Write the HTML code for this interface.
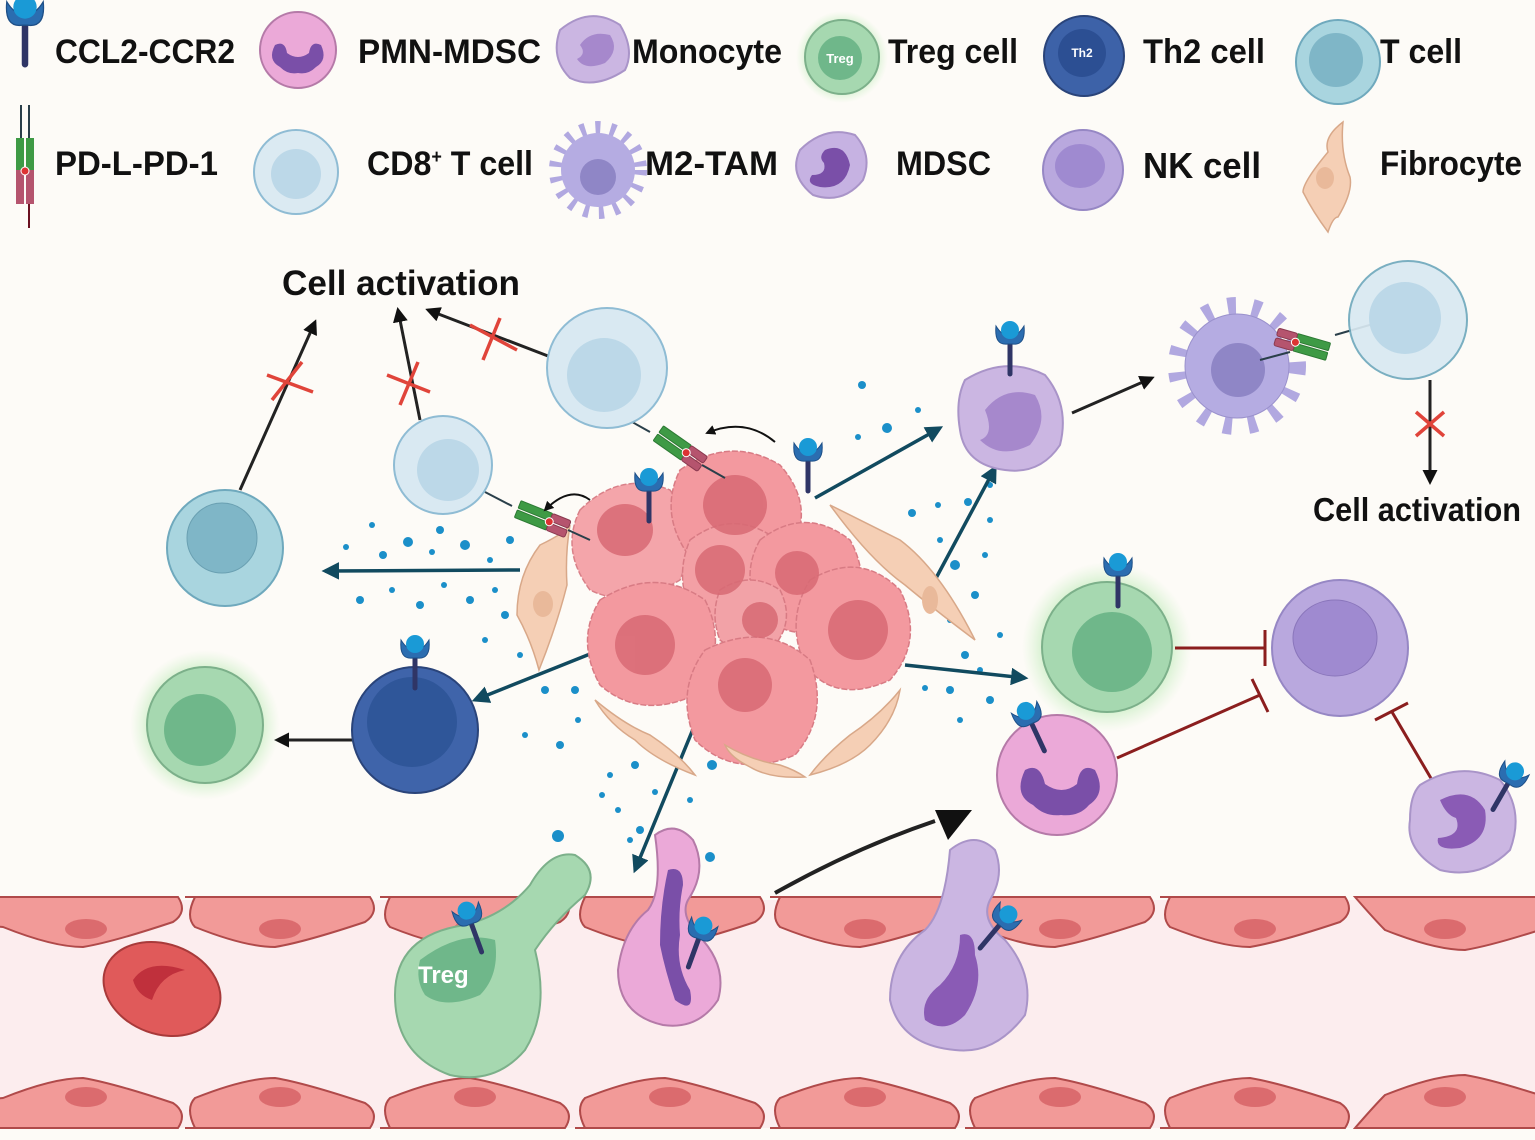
<!DOCTYPE html>
<html><head><meta charset="utf-8"><style>
html,body{margin:0;padding:0;background:#fdfbf7;}
svg{display:block;}
text{font-family:"Liberation Sans",sans-serif;font-weight:bold;fill:#111;}
</style></head><body>
<svg width="1535" height="1140" viewBox="0 0 1535 1140" xmlns="http://www.w3.org/2000/svg">
<defs>
<g id="rec">
  <line x1="0" y1="0" x2="0" y2="34" stroke="#2f3566" stroke-width="5" stroke-linecap="round"/>
  <path d="M-14,-14 Q-16,6 -2,4 L2,4 Q16,6 14,-14 Q8,-4 0,-4 Q-8,-4 -14,-14Z" fill="#2b6db0" stroke="#1e4f87" stroke-width="1"/>
  <circle cx="0" cy="-10" r="9" fill="#1a9ad6"/>
</g>
<g id="pd">
  <rect x="-24" y="-9" width="34" height="8" rx="1" fill="#3e9a45" stroke="#2d7a34"/><rect x="-24" y="1" width="34" height="8" rx="1" fill="#3e9a45" stroke="#2d7a34"/>
  <rect x="10" y="-9" width="20" height="8" rx="2" fill="#b5546e" stroke="#8a3a50"/><rect x="10" y="1" width="20" height="8" rx="2" fill="#b5546e" stroke="#8a3a50"/>
  <circle cx="10" cy="0" r="4" fill="#d33" stroke="#fff"/>
</g>
<radialGradient id="glow"><stop offset="0.6" stop-color="#9fe09a" stop-opacity="0.8"/><stop offset="1" stop-color="#c8f0c0" stop-opacity="0"/></radialGradient>
<marker id="ab" viewBox="0 0 10 10" refX="8" refY="5" markerWidth="5" markerHeight="5" orient="auto"><path d="M0,0 L10,5 L0,10Z" fill="#111"/></marker>
<marker id="at" viewBox="0 0 10 10" refX="8" refY="5" markerWidth="5" markerHeight="5" orient="auto"><path d="M0,0 L10,5 L0,10Z" fill="#114a5f"/></marker>
</defs>

<!-- Legend row 1 -->
<g transform="translate(25,20) scale(1.3)"><use href="#rec"/></g>
<text x="55" y="63" font-size="34" textLength="180" lengthAdjust="spacingAndGlyphs">CCL2-CCR2</text>
<circle cx="298" cy="50" r="38" fill="#eba9d8" stroke="#b57aa8" stroke-width="2"/>
<path d="M275,45 q-8,15 5,22 q8,8 18,6 q10,2 18,-6 q12,-7 5,-22 q-10,-5 -12,8 q-11,8 -22,0 q-2,-13 -12,-8z" fill="#7a4fa8"/>
<text x="358" y="63" font-size="34" textLength="183" lengthAdjust="spacingAndGlyphs">PMN-MDSC</text>
<path d="M560,30 q30,-25 60,-5 q15,25 5,45 q-30,20 -55,8 q-20,-20 -10,-48z" fill="#cbb6e2" stroke="#a994c8" stroke-width="2"/>
<path d="M580,45 q10,-15 30,-10 q10,15 -5,28 q-20,8 -28,-4 q10,-5 3,-14z" fill="#a688cc"/>
<text x="632" y="63" font-size="34" textLength="150" lengthAdjust="spacingAndGlyphs">Monocyte</text>
<circle cx="842" cy="57" r="46" fill="url(#glow)"/>
<circle cx="842" cy="57" r="37" fill="#a6d8b0" stroke="#7cb08a" stroke-width="2"/>
<circle cx="840" cy="58" r="22" fill="#6fb78a"/>
<text x="840" y="63" font-size="13" text-anchor="middle" style="fill:#fff">Treg</text>
<text x="888" y="63" font-size="34" textLength="130" lengthAdjust="spacingAndGlyphs">Treg cell</text>
<circle cx="1084" cy="56" r="40" fill="#3d62a8" stroke="#2a447a" stroke-width="2"/>
<circle cx="1082" cy="53" r="24" fill="#2c4f93"/>
<text x="1082" y="57" font-size="12" text-anchor="middle" style="fill:#fff">Th2</text>
<text x="1143" y="63" font-size="34" textLength="122" lengthAdjust="spacingAndGlyphs">Th2 cell</text>
<circle cx="1338" cy="62" r="42" fill="#a9d5df" stroke="#6fa9bd" stroke-width="2"/>
<circle cx="1336" cy="60" r="27" fill="#7fb6c7"/>
<text x="1380" y="63" font-size="34" textLength="82" lengthAdjust="spacingAndGlyphs">T cell</text>

<!-- Legend row 2 -->
<g transform="translate(25,105)">
  <line x1="-4" y1="0" x2="-4" y2="35" stroke="#2a3f4a" stroke-width="2"/><line x1="4" y1="0" x2="4" y2="35" stroke="#2a3f4a" stroke-width="2"/>
  <rect x="-9" y="33" width="8" height="32" fill="#3e9a45"/><rect x="1" y="33" width="8" height="32" fill="#3e9a45"/>
  <rect x="-9" y="65" width="8" height="34" fill="#b5546e"/><rect x="1" y="65" width="8" height="34" fill="#b5546e"/>
  <circle cx="0" cy="66" r="4" fill="#d33" stroke="#fff"/>
  <line x1="4" y1="99" x2="4" y2="123" stroke="#6a1020" stroke-width="2"/>
</g>
<text x="55" y="175" font-size="34" textLength="163" lengthAdjust="spacingAndGlyphs">PD-L-PD-1</text>
<circle cx="296" cy="172" r="42" fill="#dbeaf2" stroke="#8fbcd4" stroke-width="2"/>
<circle cx="296" cy="174" r="25" fill="#bcd8e8"/>
<text x="367" y="175" font-size="34" textLength="166" lengthAdjust="spacingAndGlyphs">CD8<tspan font-size="19" dy="-12">+</tspan><tspan dy="12"> T cell</tspan></text>
<circle cx="598" cy="170" r="42" fill="none" stroke="#b1a8e0" stroke-width="14" stroke-dasharray="5 10"/>
<circle cx="598" cy="170" r="37" fill="#b5ace2"/>
<circle cx="598" cy="177" r="18" fill="#8f86c6"/>
<text x="645" y="175" font-size="34" textLength="133" lengthAdjust="spacingAndGlyphs">M2-TAM</text>
<path d="M800,150 q25,-25 55,-15 q18,20 8,45 q-20,25 -50,15 q-25,-20 -13,-45z" fill="#c6b2e2" stroke="#a994c8" stroke-width="2"/>
<path d="M825,150 q20,-8 25,15 q-5,25 -30,22 q-15,-3 -8,-12 q15,0 12,-12 q-6,-6 1,-13z" fill="#7a4fa8"/>
<text x="896" y="175" font-size="34" textLength="95" lengthAdjust="spacingAndGlyphs">MDSC</text>
<circle cx="1083" cy="170" r="40" fill="#b9a8de" stroke="#9687c4" stroke-width="2"/>
<ellipse cx="1080" cy="166" rx="25" ry="22" fill="#9f8ad0"/>
<text x="1143" y="178" font-size="36" textLength="118" lengthAdjust="spacingAndGlyphs">NK cell</text>
<path d="M1343,122 q-20,15 -15,30 q-25,30 -25,40 q10,20 25,40 q5,-15 10,-15 q15,-25 12,-40 q-10,-25 -7,-55z" fill="#f5cfb5" stroke="#d8a889" stroke-width="1.5"/>
<ellipse cx="1325" cy="178" rx="9" ry="11" fill="#e9b99a"/>
<text x="1380" y="175" font-size="34" textLength="142" lengthAdjust="spacingAndGlyphs">Fibrocyte</text>

<!-- dots -->
<g fill="#1b8fc9">
<circle cx="862" cy="385" r="4"/><circle cx="887" cy="428" r="5"/><circle cx="858" cy="437" r="3"/><circle cx="918" cy="410" r="3"/><circle cx="912" cy="513" r="4"/><circle cx="938" cy="505" r="3"/><circle cx="968" cy="502" r="4"/><circle cx="990" cy="485" r="3"/><circle cx="955" cy="565" r="5"/><circle cx="985" cy="555" r="3"/><circle cx="975" cy="595" r="4"/><circle cx="990" cy="520" r="3"/><circle cx="950" cy="620" r="3"/><circle cx="965" cy="655" r="4"/><circle cx="990" cy="700" r="4"/><circle cx="1000" cy="635" r="3"/><circle cx="925" cy="688" r="3"/><circle cx="950" cy="690" r="4"/><circle cx="960" cy="720" r="3"/><circle cx="980" cy="670" r="3"/><circle cx="940" cy="540" r="3"/>
<circle cx="346" cy="547" r="3"/><circle cx="372" cy="525" r="3"/><circle cx="383" cy="555" r="4"/><circle cx="408" cy="542" r="5"/><circle cx="432" cy="552" r="3"/><circle cx="440" cy="530" r="4"/><circle cx="465" cy="545" r="5"/><circle cx="490" cy="560" r="3"/><circle cx="510" cy="540" r="4"/><circle cx="360" cy="600" r="4"/><circle cx="392" cy="590" r="3"/><circle cx="420" cy="605" r="4"/><circle cx="444" cy="585" r="3"/><circle cx="470" cy="600" r="4"/><circle cx="495" cy="590" r="3"/><circle cx="505" cy="615" r="4"/><circle cx="485" cy="640" r="3"/><circle cx="520" cy="655" r="3"/><circle cx="525" cy="735" r="3"/><circle cx="545" cy="690" r="4"/><circle cx="575" cy="690" r="4"/><circle cx="578" cy="720" r="3"/><circle cx="560" cy="745" r="4"/><circle cx="610" cy="775" r="3"/><circle cx="635" cy="765" r="4"/><circle cx="602" cy="795" r="3"/><circle cx="618" cy="810" r="3"/><circle cx="655" cy="792" r="3"/><circle cx="640" cy="830" r="4"/><circle cx="690" cy="800" r="3"/><circle cx="712" cy="765" r="5"/><circle cx="710" cy="857" r="5"/><circle cx="558" cy="836" r="6"/><circle cx="630" cy="840" r="3"/><circle cx="673" cy="845" r="3"/>
</g>

<!-- teal arrows from tumor -->
<g stroke="#114a5f" stroke-width="3.5" fill="none" marker-end="url(#at)">
<line x1="815" y1="498" x2="940" y2="428"/>
<line x1="935" y1="580" x2="995" y2="468"/>
<line x1="905" y1="665" x2="1025" y2="678"/>
<line x1="520" y1="570" x2="325" y2="571"/>
<line x1="600" y1="650" x2="475" y2="700"/>
<line x1="705" y1="700" x2="635" y2="870"/>
</g>

<!-- tumor cluster -->
<g stroke="#d87b84" stroke-width="1.5" stroke-dasharray="6 2">
<path d="M580,510 q40,-40 90,-20 q30,40 10,90 q-50,30 -90,10 q-30,-40 -10,-80z" fill="#f4a1a6" opacity="0.95"/>
<path d="M680,470 q50,-35 100,-5 q40,45 5,95 q-60,25 -100,-10 q-25,-40 -5,-80z" fill="#f3999f"/>
<path d="M690,540 q40,-30 80,-5 q20,40 -5,80 q-45,20 -75,-5 q-15,-35 0,-70z" fill="#f3a0a5"/>
<path d="M760,540 q45,-35 90,0 q25,45 -5,85 q-50,20 -85,-10 q-20,-40 0,-75z" fill="#f3999f"/>
<path d="M810,580 q50,-30 90,10 q25,50 -10,90 q-55,25 -85,-15 q-20,-45 5,-85z" fill="#f3999f"/>
<path d="M600,600 q55,-35 105,0 q25,50 -10,95 q-55,25 -95,-10 q-25,-45 0,-85z" fill="#f3999f"/>
<path d="M720,590 q30,-20 60,0 q15,30 -5,55 q-30,15 -55,-5 q-10,-25 0,-50z" fill="#f2a2a7"/>
<path d="M705,650 q60,-30 105,10 q20,55 -15,95 q-60,25 -100,-15 q-20,-50 10,-90z" fill="#f3999f"/>
</g>
<g fill="#d86a74" opacity="0.85">
<ellipse cx="625" cy="530" rx="28" ry="26"/><ellipse cx="735" cy="505" rx="32" ry="30"/><ellipse cx="720" cy="570" rx="25" ry="25"/><ellipse cx="797" cy="573" rx="22" ry="22"/><ellipse cx="858" cy="630" rx="30" ry="30"/><ellipse cx="645" cy="645" rx="30" ry="30"/><ellipse cx="760" cy="620" rx="18" ry="18"/><ellipse cx="745" cy="685" rx="27" ry="27"/>
</g>
<!-- fibrocytes around tumor -->
<g fill="#f5cfb5" stroke="#d8a889" stroke-width="1.5">
<path d="M540,545 q25,-12 30,-20 q-5,30 -3,60 q-10,40 -28,85 q-8,-30 -22,-55 q0,-40 23,-70z"/>
<path d="M830,505 q40,20 70,35 q40,30 75,100 q-40,-30 -70,-55 q-35,-25 -75,-80z"/>
<path d="M595,700 q30,25 55,35 q30,20 45,40 q-40,-15 -60,-35 q-25,-15 -40,-40z"/>
<path d="M900,690 q-20,25 -50,45 q-25,20 -40,40 q40,-10 60,-30 q25,-25 30,-55z"/>
<path d="M725,745 q25,15 55,20 q15,5 25,12 q-35,2 -55,-10 q-20,-10 -25,-22z"/>
</g>
<g fill="#e9b99a"><ellipse cx="543" cy="604" rx="10" ry="13"/><ellipse cx="930" cy="600" rx="8" ry="14"/></g>
<use href="#rec" x="649" y="487"/>
<use href="#rec" x="808" y="457"/>
<!-- PD-L PD-1 pairs near tumor -->
<line x1="485" y1="492" x2="512" y2="506" stroke="#2a3f4a" stroke-width="2"/>
<line x1="625" y1="418" x2="650" y2="432" stroke="#2a3f4a" stroke-width="2"/>
<g transform="translate(540,518) rotate(22)"><use href="#pd"/></g>
<g transform="translate(678,447) rotate(35)"><use href="#pd"/></g>
<line x1="568" y1="530" x2="590" y2="540" stroke="#2a3f4a" stroke-width="2"/>
<line x1="702" y1="465" x2="725" y2="478" stroke="#2a3f4a" stroke-width="2"/>
<path d="M590,500 q-20,-15 -45,10" stroke="#111" stroke-width="2" fill="none" marker-end="url(#ab)"/>
<path d="M775,442 q-30,-25 -68,-9" stroke="#111" stroke-width="2" fill="none" marker-end="url(#ab)"/>

<!-- Cell activation left -->
<text x="282" y="295" font-size="35" textLength="238" lengthAdjust="spacingAndGlyphs">Cell activation</text>
<g stroke="#222" stroke-width="3" fill="none" marker-end="url(#ab)">
<line x1="240" y1="490" x2="315" y2="322"/>
<line x1="420" y1="420" x2="398" y2="310"/>
<line x1="548" y1="356" x2="428" y2="310"/>
<line x1="1072" y1="413" x2="1152" y2="378"/>
<line x1="1430" y1="380" x2="1430" y2="482"/>
<line x1="352" y1="740" x2="277" y2="740"/>
</g>
<g stroke="#e0443a" stroke-width="3.5">
<line x1="267" y1="375" x2="313" y2="392"/><line x1="272" y1="400" x2="302" y2="362"/>
<line x1="387" y1="375" x2="430" y2="392"/><line x1="400" y1="405" x2="418" y2="362"/>
<line x1="470" y1="325" x2="517" y2="350"/><line x1="483" y1="360" x2="500" y2="318"/>
<line x1="1416" y1="412" x2="1444" y2="436"/><line x1="1416" y1="436" x2="1444" y2="412"/>
</g>

<!-- CD8 cells -->
<circle cx="607" cy="368" r="60" fill="#d9e9f2" stroke="#8fbcd4" stroke-width="2"/>
<circle cx="604" cy="375" r="37" fill="#bcd8e8"/>
<circle cx="443" cy="465" r="49" fill="#d9e9f2" stroke="#8fbcd4" stroke-width="2"/>
<circle cx="448" cy="470" r="31" fill="#bcd8e8"/>
<!-- T cell -->
<circle cx="225" cy="548" r="58" fill="#a9d5df" stroke="#6fa9bd" stroke-width="2"/>
<circle cx="222" cy="538" r="35" fill="#7fb6c7" stroke="#6aa0b2"/>
<!-- Treg left -->
<circle cx="205" cy="725" r="75" fill="url(#glow)"/>
<circle cx="205" cy="725" r="58" fill="#a6d8b0" stroke="#7cb08a" stroke-width="2"/>
<circle cx="200" cy="730" r="36" fill="#6fb78a"/>
<!-- Th2 -->
<circle cx="415" cy="730" r="63" fill="#3f64aa" stroke="#2a447a" stroke-width="2"/>
<circle cx="412" cy="722" r="45" fill="#2f5699"/>
<use href="#rec" x="415" y="654"/>

<!-- Monocyte -->
<path d="M965,380 q40,-25 80,-5 q25,30 15,70 q-20,30 -55,25 q-40,-5 -45,-40 q-5,-30 5,-50z" fill="#cbb6e2" stroke="#a994c8" stroke-width="2"/>
<path d="M985,410 q20,-25 50,-15 q15,25 -5,50 q-30,15 -50,-5 q15,-5 5,-30z" fill="#a688cc"/>
<use href="#rec" x="1010" y="340"/>
<!-- M2 TAM -->
<circle cx="1237" cy="366" r="58" fill="none" stroke="#b1a8e0" stroke-width="22" stroke-dasharray="8 16"/>
<circle cx="1237" cy="366" r="52" fill="#b5ace2" stroke="#9a91cc"/>
<circle cx="1238" cy="370" r="27" fill="#8f86c6"/>
<line x1="1260" y1="360" x2="1290" y2="352" stroke="#2a3f4a" stroke-width="2"/>
<line x1="1335" y1="335" x2="1380" y2="322" stroke="#2a3f4a" stroke-width="2"/>
<g transform="translate(1305,345) rotate(-164)"><use href="#pd"/></g>
<circle cx="1408" cy="320" r="59" fill="#d9e9f2" stroke="#6fa9bd" stroke-width="2" opacity="0.92"/>
<circle cx="1405" cy="318" r="36" fill="#bcd8e8"/>
<text x="1313" y="521" font-size="33" textLength="208" lengthAdjust="spacingAndGlyphs">Cell activation</text>

<!-- Treg right -->
<circle cx="1107" cy="647" r="85" fill="url(#glow)"/>
<circle cx="1107" cy="647" r="65" fill="#a6d8b0" stroke="#7cb08a" stroke-width="2"/>
<circle cx="1112" cy="652" r="40" fill="#6fb78a"/>
<use href="#rec" x="1118" y="572"/>
<!-- NK -->
<circle cx="1340" cy="648" r="68" fill="#b9a8de" stroke="#9687c4" stroke-width="2"/>
<ellipse cx="1335" cy="638" rx="42" ry="38" fill="#9f8ad0" stroke="#8a76bb"/>
<!-- PMN-MDSC -->
<circle cx="1057" cy="775" r="60" fill="#eba9d8" stroke="#b57aa8" stroke-width="2"/>
<path d="M1025,770 q-12,25 8,35 q12,12 28,10 q18,2 28,-10 q18,-12 6,-35 q-15,-8 -18,14 q-15,12 -32,0 q-5,-22 -20,-14z" fill="#7a4fa8"/>
<use href="#rec" x="1030" y="720" transform="rotate(-25,1030,720)"/>
<!-- inhibition -->
<g stroke="#8b1e1e" stroke-width="3">
<line x1="1175" y1="648" x2="1265" y2="648"/><line x1="1265" y1="630" x2="1265" y2="666"/>
<line x1="1117" y1="758" x2="1260" y2="695"/><line x1="1252" y1="679" x2="1268" y2="712"/>
<line x1="1432" y1="780" x2="1392" y2="712"/><line x1="1375" y1="720" x2="1408" y2="703"/>
</g>
<!-- MDSC right -->
<path d="M1420,785 q40,-25 80,-5 q25,30 10,70 q-30,30 -70,20 q-35,-20 -30,-50 q0,-25 10,-35z" fill="#cbb6e2" stroke="#a994c8" stroke-width="2"/>
<path d="M1440,800 q30,-15 45,10 q5,30 -25,38 q-25,3 -22,-10 q25,-2 18,-20 q-10,-3 -16,-18z" fill="#8a5bb5"/>
<use href="#rec" x="1510" y="780" transform="rotate(30,1510,780)"/>

<!-- big black arrow -->
<path d="M775,893 q80,-45 160,-72" stroke="#222" stroke-width="4" fill="none"/>
<path d="M935,810 L972,810 L948,840Z" fill="#111"/>

<!-- Vessel -->
<rect x="0" y="900" width="1535" height="228" fill="#fcedee"/>
<g fill="#f29a98" stroke="#b04a4a" stroke-width="2">
<path d="M-20,897 L178,897 q10,15 -5,25 q-60,20 -90,25 q-30,0 -80,-20 L-20,925z"/>
<path d="M185,897 L370,897 q10,15 -5,25 q-60,20 -90,25 q-30,0 -80,-20 q-10,-10 0,-30z"/>
<path d="M380,897 L565,897 q10,15 -5,25 q-60,20 -90,25 q-30,0 -80,-20 q-10,-10 0,-30z"/>
<path d="M575,897 L760,897 q10,15 -5,25 q-60,20 -90,25 q-30,0 -80,-20 q-10,-10 0,-30z"/>
<path d="M770,897 L955,897 q10,15 -5,25 q-60,20 -90,25 q-30,0 -80,-20 q-10,-10 0,-30z"/>
<path d="M965,897 L1150,897 q10,15 -5,25 q-60,20 -90,25 q-30,0 -80,-20 q-10,-10 0,-30z"/>
<path d="M1160,897 L1345,897 q10,15 -5,25 q-60,20 -90,25 q-30,0 -80,-20 q-10,-10 0,-30z"/>
<path d="M1355,897 L1555,897 L1555,925 q-60,20 -90,25 q-30,0 -80,-20 q-10,-10 -30,-33z"/>
<path d="M-20,1128 L178,1128 q10,-15 -5,-25 q-60,-20 -90,-25 q-30,0 -80,20 L-20,1100z"/>
<path d="M185,1128 L370,1128 q10,-15 -5,-25 q-60,-20 -90,-25 q-30,0 -80,20 q-10,10 0,30z"/>
<path d="M380,1128 L565,1128 q10,-15 -5,-25 q-60,-20 -90,-25 q-30,0 -80,20 q-10,10 0,30z"/>
<path d="M575,1128 L760,1128 q10,-15 -5,-25 q-60,-20 -90,-25 q-30,0 -80,20 q-10,10 0,30z"/>
<path d="M770,1128 L955,1128 q10,-15 -5,-25 q-60,-20 -90,-25 q-30,0 -80,20 q-10,10 0,30z"/>
<path d="M965,1128 L1150,1128 q10,-15 -5,-25 q-60,-20 -90,-25 q-30,0 -80,20 q-10,10 0,30z"/>
<path d="M1160,1128 L1345,1128 q10,-15 -5,-25 q-60,-20 -90,-25 q-30,0 -80,20 q-10,10 0,30z"/>
<path d="M1355,1128 L1555,1128 L1555,1100 q-60,-20 -90,-25 q-30,0 -80,20 q-10,10 -30,33z"/>
</g>
<g fill="#db6b6e">
<ellipse cx="86" cy="929" rx="21" ry="10"/><ellipse cx="280" cy="929" rx="21" ry="10"/><ellipse cx="475" cy="929" rx="21" ry="10"/><ellipse cx="670" cy="929" rx="21" ry="10"/><ellipse cx="865" cy="929" rx="21" ry="10"/><ellipse cx="1060" cy="929" rx="21" ry="10"/><ellipse cx="1255" cy="929" rx="21" ry="10"/><ellipse cx="1445" cy="929" rx="21" ry="10"/>
<ellipse cx="86" cy="1097" rx="21" ry="10"/><ellipse cx="280" cy="1097" rx="21" ry="10"/><ellipse cx="475" cy="1097" rx="21" ry="10"/><ellipse cx="670" cy="1097" rx="21" ry="10"/><ellipse cx="865" cy="1097" rx="21" ry="10"/><ellipse cx="1060" cy="1097" rx="21" ry="10"/><ellipse cx="1255" cy="1097" rx="21" ry="10"/><ellipse cx="1445" cy="1097" rx="21" ry="10"/>
</g>
<!-- RBC -->
<ellipse cx="162" cy="989" rx="60" ry="45" transform="rotate(20,162,989)" fill="#e05a5a" stroke="#a83a3a" stroke-width="2"/>
<path d="M133,980 q15,-22 52,-10 q-25,5 -33,30 q-15,-5 -19,-20z" fill="#c0303c"/>
<!-- Treg extravasating -->
<path d="M395,995 q0,-60 70,-70 q40,-10 65,-40 q20,-35 45,-30 q25,15 10,40 q-30,25 -50,55 q15,60 -10,100 q-30,35 -75,25 q-55,-20 -55,-80z" fill="#a6d8b0" stroke="#7cb08a" stroke-width="2"/>
<path d="M420,960 q40,-30 75,-20 q5,35 -15,55 q-35,15 -55,0 q-10,-15 -5,-35z" fill="#6fb78a"/>
<text x="418" y="983" font-size="24" style="fill:#fff">Treg</text>
<use href="#rec" x="470" y="920" transform="rotate(-20,470,920)"/>
<!-- PMN extravasating -->
<path d="M655,835 q20,-15 38,5 q15,30 -5,60 q-8,15 10,35 q30,30 20,65 q-20,30 -55,25 q-45,-10 -45,-55 q5,-40 30,-60 q15,-20 7,-75z" fill="#eba9d8" stroke="#b57aa8" stroke-width="2"/>
<path d="M668,870 q15,-5 15,15 q-5,25 -3,50 q-5,30 10,55 q5,25 -15,10 q-10,-30 -15,-55 q0,-40 8,-75z" fill="#7a4fa8"/>
<use href="#rec" x="700" y="935" transform="rotate(20,700,935)"/>
<!-- MDSC extravasating -->
<path d="M950,850 q25,-20 45,0 q10,25 -5,50 q-10,20 15,40 q30,35 20,75 q-30,40 -70,35 q-55,-5 -65,-50 q0,-45 35,-70 q20,-20 25,-80z" fill="#cbb6e2" stroke="#a994c8" stroke-width="2"/>
<path d="M960,935 q15,-5 15,20 q10,30 -10,60 q-20,20 -40,5 q-5,-20 15,-35 q20,-20 20,-50z" fill="#8a5bb5"/>
<use href="#rec" x="1002" y="922" transform="rotate(40,1002,922)"/>
</svg>
</body></html>
